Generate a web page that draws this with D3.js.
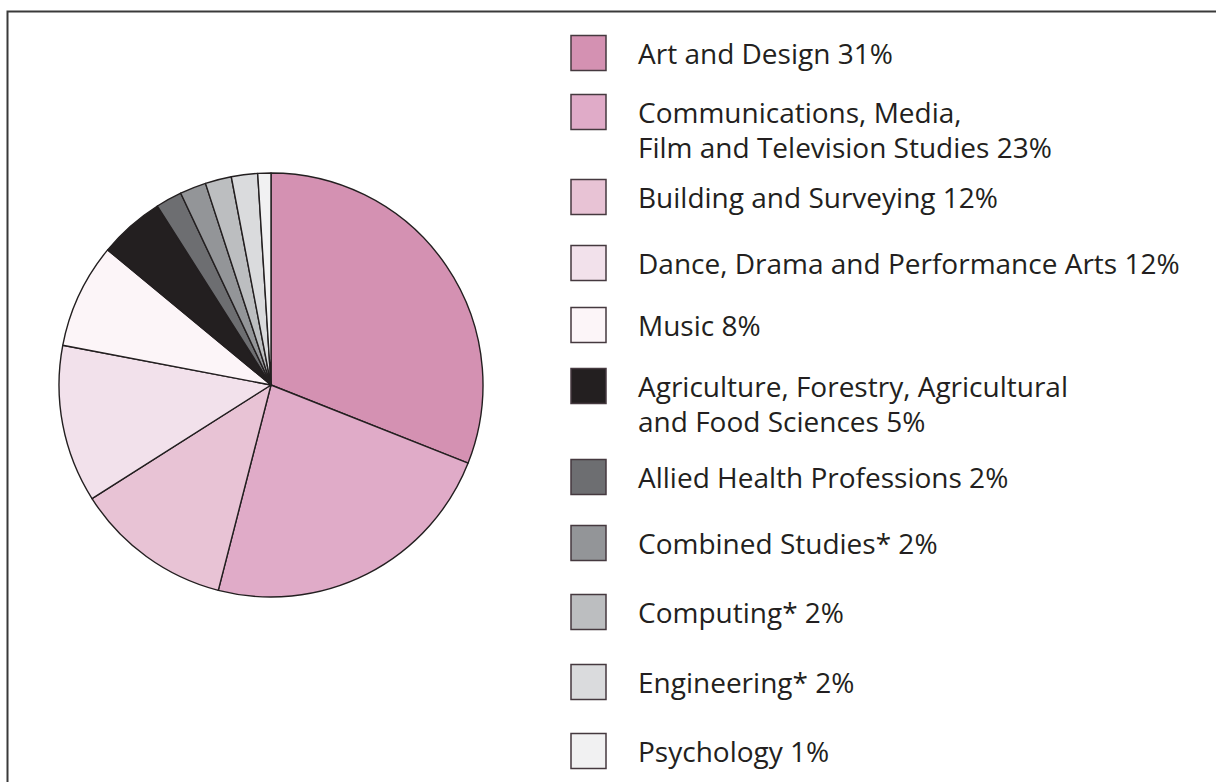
<!DOCTYPE html>
<html>
<head>
<meta charset="utf-8">
<script src="https://cdn.jsdelivr.net/npm/d3@7"></script>
<style>
  html, body { margin: 0; padding: 0; background: #fff; }
  svg { display: block; }
  text { font-family: "Open Sans", "Noto Sans", sans-serif; }
</style>
</head>
<body>
<svg id="chart" width="1216" height="782"></svg>
<script>
// ---- data ----
const categories = [
  "Art and Design",
  "Communications, Media,|Film and Television Studies",
  "Building and Surveying",
  "Dance, Drama and Performance Arts",
  "Music",
  "Agriculture, Forestry, Agricultural|and Food Sciences",
  "Allied Health Professions",
  "Combined Studies*",
  "Computing*",
  "Engineering*",
  "Psychology"
];
const values = [31, 23, 12, 12, 8, 5, 2, 2, 2, 2, 1];
const colors = ["#d491b2", "#e0abc8", "#e8c3d5", "#f2e1eb", "#fcf5f8",
                "#231f20", "#6d6e71", "#939598", "#bcbec0", "#dadbdd", "#f1f1f2"];
// legend row tops (square top, px)
const legendTops = [35, 94, 179, 245, 307, 368, 459, 525, 594, 664, 733];

const data = categories.map((c, i) => ({ label: c, value: values[i], color: colors[i], top: legendTops[i] }));

const svg = d3.select("#chart");

// frame
svg.append("path")
  .attr("d", "M7.5,790 V11.5 H1230")
  .attr("fill", "none")
  .attr("stroke", "#3a3a3a")
  .attr("stroke-width", 2);

// pie
const cx = 271, cy = 385, r = 212;
const pie = d3.pie().sort(null).value(d => d.value);
const arc = d3.arc().innerRadius(0).outerRadius(r);
const g = svg.append("g").attr("transform", `translate(${cx},${cy})`);
g.selectAll("path")
  .data(pie(data))
  .join("path")
  .attr("d", arc)
  .attr("fill", d => d.data.color)
  .attr("stroke", "#231f20")
  .attr("stroke-width", 1.4)
  .attr("stroke-linejoin", "round");

// legend
const lg = svg.append("g");
const items = lg.selectAll("g.item").data(data).join("g").attr("class", "item")
  .attr("transform", d => `translate(0,${d.top})`);
items.append("rect")
  .attr("x", 571).attr("y", 0.5)
  .attr("width", 35).attr("height", 35)
  .attr("fill", d => d.color)
  .attr("stroke", "#45393f")
  .attr("stroke-width", 1.5);
items.each(function(d) {
  const lines = (d.label + " " + d.value + "%").split("|");
  const t = d3.select(this).append("text")
    .attr("x", 638).attr("y", 18)
    .attr("fill", "#231f20")
    .attr("font-size", 28)
    .attr("dominant-baseline", "central");
  lines.forEach((ln, i) => {
    t.append("tspan").attr("x", 638).attr("dy", i === 0 ? 0 : 35).text(ln);
  });
});
</script>
</body>
</html>
